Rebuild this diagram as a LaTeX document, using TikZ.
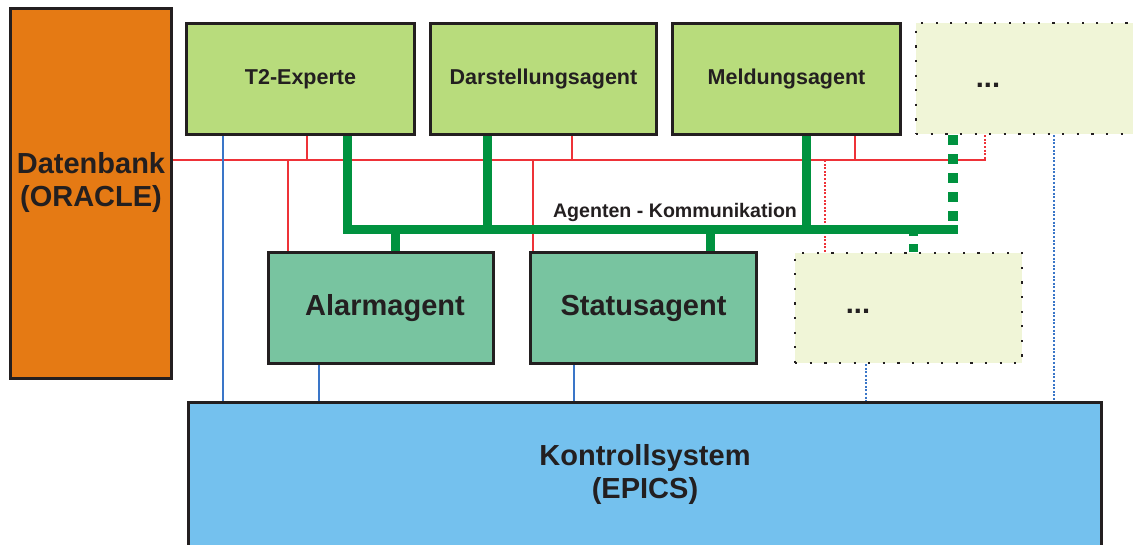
\documentclass[tikz,border=0pt]{standalone}
\usepackage{fontspec}
\setmainfont{Liberation Sans}
\usetikzlibrary{backgrounds}
\definecolor{ink}{RGB}{35,31,32}
\definecolor{orangec}{RGB}{229,122,20}
\definecolor{lgreen}{RGB}{184,220,124}
\definecolor{teal}{RGB}{120,196,160}
\definecolor{skyc}{RGB}{116,193,238}
\definecolor{pale}{RGB}{240,245,215}
\definecolor{redc}{RGB}{238,50,56}
\definecolor{bluec}{RGB}{58,118,200}
\definecolor{greenc}{RGB}{0,146,63}
\begin{document}
\begin{tikzpicture}[x=1pt,y=-1pt,
  box/.style={draw=ink, line width=3pt, inner sep=0pt, anchor=north west, text=ink},
  dotbox/.style={draw=ink, line width=2.2pt, dash pattern=on 2.2pt off 12.4pt, inner sep=0pt, anchor=north west, fill=pale, text=ink},
  smalltxt/.style={font=\fontsize{21.5pt}{24pt}\selectfont\bfseries},
  bigtxt/.style={font=\fontsize{29pt}{33pt}\selectfont\bfseries, text=ink, align=center},
  redl/.style={draw=redc, line width=2.6pt},
  redd/.style={redl, dash pattern=on 2pt off 1.6pt},
  bluel/.style={draw=bluec, line width=2.6pt},
  blued/.style={bluel, dash pattern=on 2pt off 1.6pt},
  greenl/.style={draw=greenc, line width=9pt, line join=miter},
  greend/.style={draw=greenc, line width=10pt, dash pattern=on 10pt off 9pt},
]
\useasboundingbox (0,0) rectangle (1133,544);
\clip (0,0) rectangle (1133,544);

% boxes
\node[box, fill=orangec, minimum width=161pt, minimum height=370pt] (db) at (9,7) {};
\node[bigtxt] (dbt) at ([yshift=11pt]db.center) {Datenbank\\(ORACLE)};

\node[box, fill=lgreen, minimum width=228pt, minimum height=111pt, smalltxt] (t2) at (185,22) {};
\node[smalltxt, text=ink] at (t2.center) {T2-Experte};
\node[box, fill=lgreen, minimum width=226pt, minimum height=111pt] (da) at (429,22) {};
\node[smalltxt, text=ink] at (da.center) {Darstellungsagent};
\node[box, fill=lgreen, minimum width=228pt, minimum height=111pt] (me) at (671,22) {};
\node[smalltxt, text=ink] at (me.center) {Meldungsagent};
\node[dotbox, minimum width=240pt, minimum height=111pt] (tr) at (915,22) {};
\node[bigtxt] at ([xshift=73pt,yshift=-7pt]tr.west) {...};

\node[box, fill=teal, minimum width=225pt, minimum height=111pt] (al) at (267,251) {};
\node[bigtxt] at ([xshift=4pt]al.center) {Alarmagent};
\node[box, fill=teal, minimum width=226pt, minimum height=111pt] (st) at (529,251) {};
\node[bigtxt] at (st.center) {Statusagent};
\node[dotbox, minimum width=227pt, minimum height=110pt] (md) at (794,252) {};
\node[bigtxt] at ([xshift=64pt,yshift=-3pt]md.west) {...};

\node[box, fill=skyc, minimum width=913pt, minimum height=170pt] (kon) at (187,401) {};
\node[bigtxt] at ([yshift=-73pt]kon.north) {Kontrollsystem\\(EPICS)};

\coordinate (rb) at (986,160);
\coordinate (gb) at (958,229);
\node[font=\fontsize{19.6pt}{22pt}\selectfont\bfseries, text=ink] (lbl) at ([xshift=-283pt,yshift=17pt]gb) {Agenten - Kommunikation};

\begin{scope}[on background layer]
% red database bus
\draw[redl] (db.east |- rb) -- (rb);
\draw[redl] ([xshift=122pt]t2.south west) coordinate (r1) -- (r1 |- rb);
\draw[redl] ([xshift=143pt]da.south west) coordinate (r2) -- (r2 |- rb);
\draw[redl] ([xshift=184pt]me.south west) coordinate (r3) -- (r3 |- rb);
\draw[redd] ([xshift=70pt]tr.south west) coordinate (r4) -- (r4 |- rb);
\draw[redl] ([xshift=21pt]al.north west) coordinate (r5) -- (r5 |- rb);
\draw[redl] ([xshift=4pt]st.north west) coordinate (r6) -- (r6 |- rb);
\draw[redd] ([xshift=31pt]md.north west) coordinate (r7) -- (r7 |- rb);
% green agent bus
\draw[greenl] ([xshift=162pt]t2.south west) coordinate (g1) -- (g1 |- gb) -- (gb);
\draw[greenl] ([xshift=58pt]da.south west) coordinate (g2) -- (g2 |- gb);
\draw[greenl] ([xshift=135pt]me.south west) coordinate (g3) -- (g3 |- gb);
\draw[greend] ([xshift=38pt]tr.south west) coordinate (g4) -- (g4 |- gb);
\draw[greenl] ([xshift=128pt]al.north west) coordinate (g5) -- (g5 |- gb);
\draw[greenl] ([xshift=181pt]st.north west) coordinate (g6) -- (g6 |- gb);
\draw[draw=greenc, line width=9pt, dash pattern=on 8pt off 8pt] ([xshift=119pt]md.north west) coordinate (g7) -- (g7 |- gb);
% blue control lines
\draw[bluel] ([xshift=38pt]t2.south west) coordinate (b1) -- (b1 |- kon.north);
\draw[bluel] ([xshift=52pt]al.south west) coordinate (b2) -- (b2 |- kon.north);
\draw[bluel] ([xshift=45pt]st.south west) coordinate (b3) -- (b3 |- kon.north);
\draw[blued] ([xshift=72pt]md.south west) coordinate (b4) -- (b4 |- kon.north);
\draw[blued] ([xshift=139pt]tr.south west) coordinate (b5) -- (b5 |- kon.north);
\end{scope}
\end{tikzpicture}
\end{document}
